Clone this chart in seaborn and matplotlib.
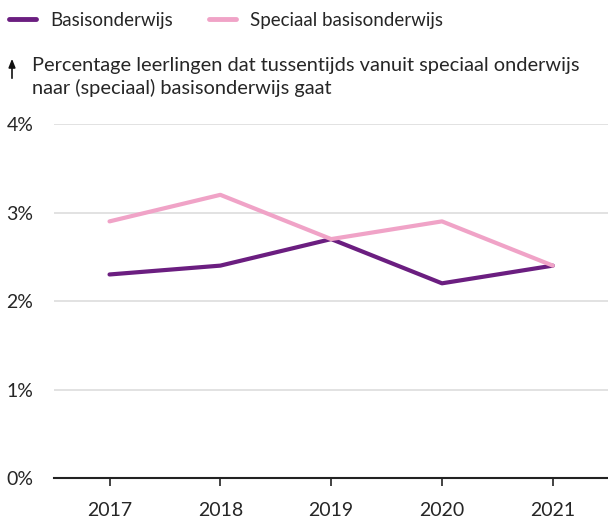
import matplotlib
matplotlib.use("Agg")
import matplotlib.pyplot as plt
import seaborn as sns
import pandas as pd

# Data.
years = ["2017", "2018", "2019", "2020", "2021"]
basis = [2.3, 2.4, 2.7, 2.2, 2.4]
speciaal = [2.9, 3.2, 2.7, 2.9, 2.4]
series_names = ["Basisonderwijs", "Speciaal basisonderwijs"]
palette = {"Basisonderwijs": "#6b1e80", "Speciaal basisonderwijs": "#f0a3c7"}

df = pd.DataFrame(
    {
        "jaar": years * 2,
        "waarde": basis + speciaal,
        "reeks": [series_names[0]] * len(years) + [series_names[1]] * len(years),
    }
)

sns.set_style("white")
plt.rcParams["font.family"] = ["Lato", "DejaVu Sans"]

fig = plt.figure(figsize=(6.08, 5.19), dpi=100)
ax = fig.add_axes([0.089, 0.079, 0.915, 0.682])

sns.lineplot(
    data=df, x="jaar", y="waarde", hue="reeks", hue_order=series_names,
    palette=palette, linewidth=3, ax=ax, legend=False, sort=False,
)

# Axes styling.
ax.set_xlim(-0.5, 4.52)
ax.set_ylim(0, 4)
ax.set_yticks([0, 1, 2, 3, 4])
ax.set_yticklabels(["0%", "1%", "2%", "3%", "4%"], fontsize=14)
ax.yaxis.grid(True, color="#dddddd", linewidth=1.2)
ax.set_axisbelow(True)
ax.tick_params(axis="y", length=0, pad=15)
ax.tick_params(axis="x", length=6, width=1.2, color="#222222", direction="out",
               labelsize=14, pad=11)
ax.xaxis.set_ticks_position("bottom")
for side in ["left", "right", "top"]:
    ax.spines[side].set_visible(False)
ax.spines["bottom"].set_color("#222222")
ax.spines["bottom"].set_linewidth(1.5)
ax.set_xlabel("")
ax.set_ylabel("")

# Legend.
handles = [plt.Line2D([0], [0], color=palette[s], linewidth=3.5) for s in series_names]
fig.legend(handles, series_names, loc="upper left", bbox_to_anchor=(-0.013, 1.01),
           ncol=2, frameon=False, fontsize=13.5, handlelength=1.45,
           columnspacing=1.9, handletextpad=0.75)

# Y axis title with arrow.
fig.text(0.053, 0.851, "Percentage leerlingen dat tussentijds vanuit speciaal onderwijs\n"
         "naar (speciaal) basisonderwijs gaat", fontsize=14.4, va="center",
         linespacing=1.35)
ax.annotate("", xy=(12, 519 - 56), xytext=(12, 519 - 81),
            xycoords="figure pixels", textcoords="figure pixels",
            arrowprops=dict(arrowstyle="-|>,head_length=0.5,head_width=0.2",
                            color="#111111", lw=1.2))

fig.savefig("out.png", dpi=100)
plt.close()
